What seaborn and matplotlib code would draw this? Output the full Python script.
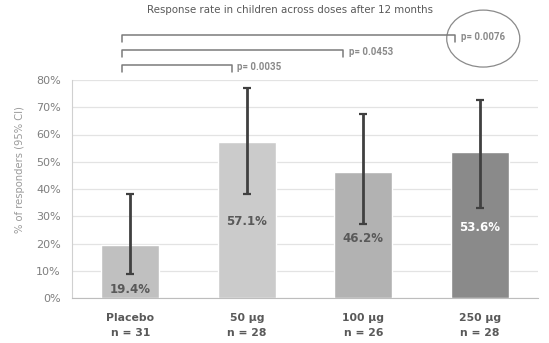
import matplotlib
matplotlib.use("Agg")
import matplotlib.pyplot as plt
from matplotlib.patches import Ellipse
import seaborn as sns
import pandas as pd

# Response rates (%) with 95% confidence limits
groups = ["Placebo", "50 µg", "100 µg", "250 µg"]
n_counts = [31, 28, 26, 28]
rates = [19.4, 57.1, 46.2, 53.6]
ci_low = [8.7, 38.0, 27.0, 33.0]
ci_high = [38.1, 77.0, 67.6, 72.8]
bar_colors = ["#c0c0c0", "#cbcbcb", "#b2b2b2", "#8a8a8a"]
label_colors = ["#595959", "#595959", "#595959", "#ffffff"]
label_heights = [3.2, 28.0, 22.0, 26.0]

# Pairwise comparisons against placebo
comparisons = [1, 2, 3]
p_values = ["p= 0.0035", "p= 0.0453", "p= 0.0076"]

sns.set_style("white")
plt.rcParams["font.family"] = ["DejaVu Sans"]

df = pd.DataFrame({
    "group": [f"{g}\nn = {n}" for g, n in zip(groups, n_counts)],
    "rate": [r / 100 for r in rates],
})

fig = plt.figure(figsize=(5.49, 3.43), dpi=100)
ax = fig.add_axes([72 / 549, 45 / 343, 466 / 549, 218 / 343])

sns.barplot(data=df, x="group", y="rate", hue="group", palette=bar_colors,
            width=0.495, legend=False, ax=ax, zorder=2)

xs = range(len(groups))
lower = [(r - lo) / 100 for r, lo in zip(rates, ci_low)]
upper = [(hi - r) / 100 for r, hi in zip(rates, ci_high)]
ax.errorbar(xs, [r / 100 for r in rates], yerr=[lower, upper], fmt="none",
            ecolor="#404040", elinewidth=2, capsize=3, capthick=1.6, zorder=3)

for x, r, h, c in zip(xs, rates, label_heights, label_colors):
    ax.text(x, h / 100, f"{r:.1f}%", ha="center", va="center",
            fontsize=8.5, fontweight="bold", color=c, zorder=4)

ax.set_xlim(-0.5, 3.5)
ax.set_ylim(0, 0.8)
ax.set_yticks([i / 10 for i in range(9)])
ax.set_yticklabels([f"{i * 10}%" for i in range(9)], color="#7f7f7f", fontsize=8)
ax.yaxis.grid(True, color="#e3e3e3", linewidth=0.9, zorder=0)
ax.set_axisbelow(True)
ax.tick_params(axis="y", length=4, color="#c8c8c8", pad=4)
ax.tick_params(axis="x", length=0, pad=11)
for lbl in ax.get_xticklabels():
    lbl.set_fontweight("bold")
    lbl.set_color("#595959")
    lbl.set_fontsize(7.8)
    lbl.set_linespacing(1.6)
ax.set_xlabel("")
ax.set_ylabel("% of responders (95% CI)", color="#9a9a9a", fontsize=7.2)
ax.yaxis.set_label_coords(-0.10, 0.59)
for side in ["top", "right"]:
    ax.spines[side].set_visible(False)
ax.spines["left"].set_color("#d0d0d0")
ax.spines["bottom"].set_color("#bdbdbd")

# Significance brackets above the bars
bracket_y = [0.855, 0.91, 0.965]
bracket_right = [0.87, 1.83, 2.79]
bracket_left = -0.071
for c, p, y, right in zip(comparisons, p_values, bracket_y, bracket_right):
    ax.plot([bracket_left, bracket_left, right, right], [y - 0.025, y, y, y - 0.025],
            color="#7a7a7a", linewidth=1.1, clip_on=False)
    ax.text(right + 0.05, y - 0.008, p, ha="left", va="center", fontsize=7,
            family=["Roboto", "DejaVu Sans"], fontweight="bold",
            color="#8a8a8a", clip_on=False)

ell = Ellipse((3.03, 0.952), width=0.627, height=0.209,
              fill=False, edgecolor="#8a8a8a", linewidth=0.9, clip_on=False)
ax.add_patch(ell)

fig.text(290 / 549, 1 - 10 / 343, "Response rate in children across doses after 12 months",
         ha="center", va="center", fontsize=7.4, color="#595959")

fig.savefig("out.png", dpi=100)
